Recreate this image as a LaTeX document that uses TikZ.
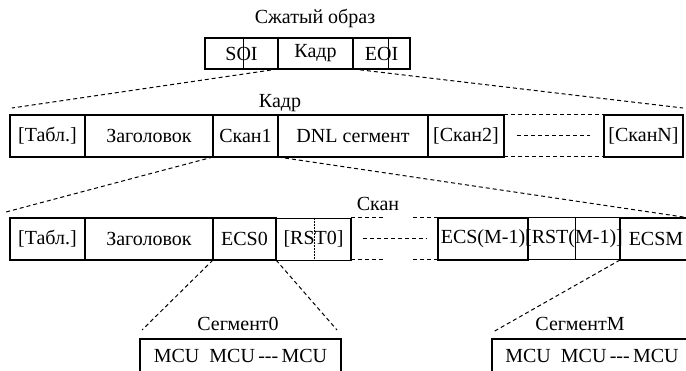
\documentclass[tikz,border=0pt]{standalone}
\usepackage{fontspec}
\setmainfont{Liberation Serif}
\usetikzlibrary{positioning}

\tikzset{
    cell/.style={draw, line width=1.5pt, inner sep=0pt, outer sep=0pt,
        minimum height=42pt, font=\fontsize{20}{24}\selectfont},
    hole/.style={cell, draw=none},
    link/.style={line width=1pt, dash pattern=on 4pt off 3pt},
    title/.style={inner sep=0pt, font=\fontsize{20}{24}\selectfont},
}

\begin{document}
\begin{tikzpicture}[x=1pt, y=-1pt]
    \clip (0,0) rectangle (686,371);

    % compressed image
    \node[title] (image) at (315,18) {Сжатый образ};
    \node[cell, minimum height=31pt, minimum width=73pt, anchor=north west] (soi) at (205,38) {SOI};
    \node[cell, minimum height=31pt, minimum width=75pt, line width=2.2pt, right=0pt of soi] (frame) {Кадр};
    \node[cell, minimum height=31pt, minimum width=57pt, right=0pt of frame] (eoi) {EOI};
    \draw[thin] ([xshift=1.5pt]soi.north) -- ([xshift=1.5pt]soi.south);
    \draw[thin] ([xshift=7pt]eoi.north) -- ([xshift=7pt]eoi.south);

    % frame
    \node[title] (frametitle) at (280,103) {Кадр};
    \node[cell, minimum width=75pt, anchor=north west] (tab1) at (10,115) {[Табл.]};
    \node[cell, minimum width=128pt, right=0pt of tab1] (head1) {Заголовок};
    \node[cell, minimum width=65pt, right=0pt of head1] (scan1) {Скан1};
    \node[cell, minimum width=150pt, right=0pt of scan1] (dnl) {DNL сегмент};
    \node[cell, minimum width=76pt, right=0pt of dnl] (scan2) {[Скан2]};
    \node[hole, minimum width=100pt, right=0pt of scan2] (gap1) {};
    \node[cell, minimum width=79pt, right=0pt of gap1] (scanN) {[СканN]};
    \draw[link] (scan2.north east) -- (scanN.north west);
    \draw[link] (scan2.south east) -- (scanN.south west);
    \draw[link] ([xshift=13pt]gap1.west) -- ([xshift=-14pt]gap1.east);

    \coordinate (l1) at (12,108);
    \coordinate (r1) at (683,108);
    \draw[link] (frame.south west) -- (l1);
    \draw[link] (frame.south east) -- (r1);

    % scan
    \node[title] (scantitle) at (378,204) {Скан};
    \node[cell, minimum width=75pt, anchor=north west] (tab2) at (10,218) {[Табл.]};
    \node[cell, minimum width=128pt, right=0pt of tab2] (head2) {Заголовок};
    \node[cell, minimum width=63pt, right=0pt of head2] (ecs0) {ECS0};
    \node[cell, minimum width=75pt, line width=0.8pt, right=0pt of ecs0] (rst0) {[RST0]};
    \node[hole, minimum width=87pt, right=0pt of rst0] (gap2) {};
    \node[cell, minimum width=90pt, right=0pt of gap2] (ecsM1) {\makebox[90pt]{ECS(M-1)}};
    \node[cell, minimum width=92pt, line width=1pt, right=0pt of ecsM1] (rstM1) {\makebox[92pt]{[RST(M-1)]}};
    \node[cell, minimum width=72pt, right=0pt of rstM1] (ecsM) {ECSM};
    \draw[line width=1.5pt] (rst0.north east) -- (rst0.south east);
    \draw[line width=0.5pt, dash pattern=on 2pt off 1pt] ([xshift=0.5pt]rst0.north) -- ([xshift=0.5pt]rst0.south);
    \draw[line width=0.6pt] ([xshift=1pt]rstM1.north) -- ([xshift=1pt]rstM1.south);
    \draw[line width=1.5pt] (ecsM1.north west) -- (ecsM1.south west);
    \draw[line width=1.5pt] (ecsM.north west) -- (ecsM.south west);
    \draw[link] (gap2.north west) -- ++(32,0);
    \draw[link] (gap2.south west) -- ++(32,0);
    \draw[link] (gap2.north east) -- ++(-26,0);
    \draw[link] (gap2.south east) -- ++(-26,0);
    \draw[link] ([xshift=12pt]gap2.west) -- ([xshift=-11pt]gap2.east);

    \coordinate (l2) at (6,212);
    \coordinate (r2) at (690,218);
    \draw[link] (scan1.south west) -- (l2);
    \draw[link] (scan1.south east) -- (r2);

    % segments
    \node[title] (seg0title) at (238,324) {Сегмент0};
    \node[cell, minimum width=201pt, minimum height=34pt, anchor=north west] (seg0) at (140,339)
        {MCU\ \ MCU\,-{}-{}-\,MCU};
    \node[title] (segMtitle) at (580,324) {СегментM};
    \node[cell, minimum width=200pt, minimum height=34pt, anchor=north west] (segM) at (492,339)
        {MCU\ \ MCU\,-{}-{}-\,MCU};

    \coordinate (l3) at (142,330);
    \coordinate (r3) at (337,330);
    \coordinate (l4) at (493,332);
    \draw[link] (ecs0.south west) -- (l3);
    \draw[link] (ecs0.south east) -- (r3);
    \draw[link] (ecsM.south west) -- (l4);
\end{tikzpicture}
\end{document}
